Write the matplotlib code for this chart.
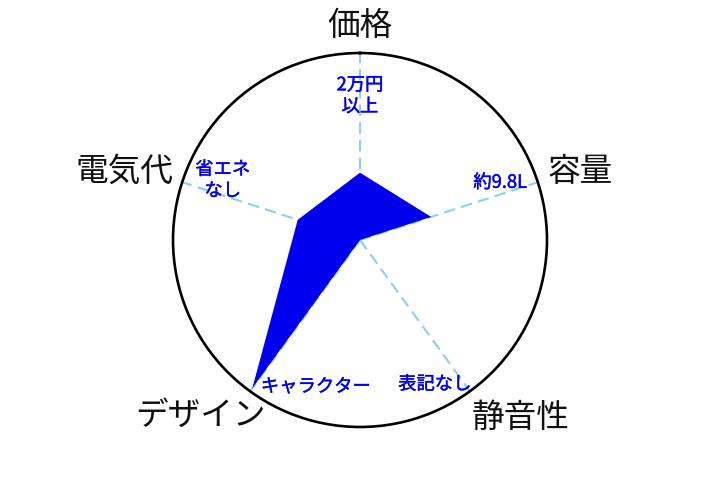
"""Radar chart: 5 evaluation axes for a small fridge."""

import matplotlib

matplotlib.use("Agg")

import matplotlib.patheffects as pe
import matplotlib.pyplot as plt
import numpy as np

plt.rcParams["font.family"] = ["Noto Sans CJK JP", "DejaVu Sans"]

categories = ["価格", "容量", "静音性", "デザイン", "電気代"]
scores = [36, 40, 0, 98, 35]
value_labels = ["2万円\n以上", "約9.8L", "表記なし", "キャラクター", "省エネ\nなし"]
score_max = 100

# label positions: (angle in degrees clockwise from top, radius as fraction of max)
category_pos = [(0, 1.145), (72.8, 1.23), (138, 1.28), (222.3, 1.27), (286.1, 1.31)]
value_pos = [(0, 0.77), (67.8, 0.81), (152.6, 0.87), (196.7, 0.82), (293.5, 0.80)]


def main() -> None:
    n = len(categories)
    angles = np.linspace(0, 2 * np.pi, n, endpoint=False)

    fig = plt.figure(figsize=(7.2, 4.8), dpi=100)
    ax = fig.add_axes([0.2403, 0.1104, 0.5194, 0.7792], projection="polar")
    ax.set_theta_offset(np.pi / 2)
    ax.set_theta_direction(-1)
    ax.set_ylim(0, score_max)
    ax.grid(False)
    ax.set_xticks([])
    ax.set_yticks([])
    ax.spines["polar"].set_color("black")
    ax.spines["polar"].set_linewidth(1.9)

    for a in angles:
        ax.plot([a, a], [0, score_max], color="#87cefa", lw=1.5,
                linestyle=(0, (5.5, 3)), zorder=1)

    closed_a = np.append(angles, angles[0])
    closed_s = np.append(scores, scores[0])
    ax.fill(closed_a, closed_s, color="#0000ee", lw=0, zorder=2)

    for name, (deg, r) in zip(categories, category_pos):
        ax.text(np.deg2rad(deg), r * score_max, name, ha="center", va="center",
                fontsize=23.5, color="#111111", clip_on=False)

    heavier = [pe.withStroke(linewidth=0.3, foreground="#0000ee")]
    for txt, (deg, r) in zip(value_labels, value_pos):
        ax.text(np.deg2rad(deg), r * score_max, txt, ha="center", va="center",
                fontsize=13.2, color="#0000ee", linespacing=1.25,
                clip_on=False, zorder=3, path_effects=heavier)

    fig.savefig("out.png", dpi=100)
    plt.close(fig)


if __name__ == "__main__":
    main()
